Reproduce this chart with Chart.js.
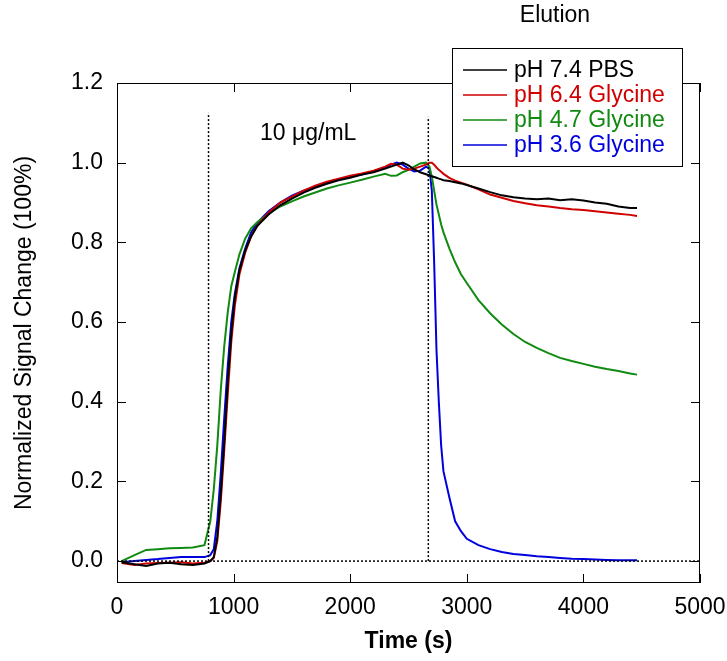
<!DOCTYPE html>
<html>
<head>
<meta charset="utf-8">
<script src="https://cdn.jsdelivr.net/npm/chart.js@4.4.0/dist/chart.umd.min.js"></script>
<style>
  html, body { margin: 0; padding: 0; background: #fff; }
  #wrap { width: 727px; height: 661px; }
</style>
</head>
<body>
<div id="wrap"><canvas id="signalChart" width="727" height="661"></canvas></div>
<script>
// time axis shared by all four runs (s)
var timeSec = [40, 150, 250, 350, 450, 550, 650, 750, 800, 830, 860, 890, 920, 950, 980, 1010, 1050, 1100, 1150, 1200,
  1300, 1400, 1500, 1600, 1700, 1800, 1900, 2000, 2100, 2200, 2300, 2350, 2400, 2450, 2500, 2550, 2600, 2650, 2680, 2700,
  2720, 2740, 2760, 2780, 2800, 2850, 2900, 2950, 3000, 3100, 3200, 3300, 3400, 3500, 3600, 3700, 3800, 3900, 4000, 4100,
  4200, 4300, 4400, 4460];

var pbs74 = [-0.003, -0.008, -0.012, -0.006, -0.004, -0.008, -0.010, -0.006, 0.000, 0.010, 0.060, 0.170, 0.300, 0.450, 0.570, 0.660, 0.730, 0.780, 0.815, 0.840,
  0.870, 0.893, 0.910, 0.925, 0.937, 0.947, 0.956, 0.962, 0.970, 0.976, 0.985, 0.990, 0.995, 1.000, 0.993, 0.983, 0.976, 0.971, 0.968, 0.966,
  0.964, 0.962, 0.960, 0.958, 0.956, 0.954, 0.951, 0.948, 0.944, 0.935, 0.926, 0.918, 0.913, 0.910, 0.908, 0.910, 0.906, 0.908, 0.905, 0.900,
  0.897, 0.890, 0.886, 0.886];

var gly64 = [-0.005, -0.010, -0.006, -0.005, -0.004, -0.003, -0.006, -0.004, 0.000, 0.008, 0.050, 0.150, 0.280, 0.420, 0.550, 0.640, 0.720, 0.775, 0.815, 0.840,
  0.875, 0.900, 0.915, 0.930, 0.942, 0.952, 0.960, 0.967, 0.973, 0.980, 0.990, 0.997, 0.995, 0.985, 0.982, 0.985, 0.990, 0.995, 1.000, 1.000,
  0.995, 0.988, 0.982, 0.977, 0.972, 0.962, 0.955, 0.950, 0.945, 0.933, 0.920, 0.912, 0.904, 0.898, 0.893, 0.890, 0.886, 0.883, 0.881, 0.878,
  0.875, 0.872, 0.869, 0.866];

var gly47 = [0.000, 0.015, 0.028, 0.030, 0.032, 0.033, 0.034, 0.040, 0.100, 0.180, 0.290, 0.430, 0.540, 0.625, 0.690, 0.725, 0.770, 0.810, 0.835, 0.850,
  0.872, 0.890, 0.903, 0.915, 0.925, 0.935, 0.943, 0.950, 0.957, 0.965, 0.972, 0.967, 0.968, 0.976, 0.982, 0.990, 0.998, 1.000, 0.990, 0.965,
  0.930, 0.895, 0.870, 0.845, 0.825, 0.785, 0.750, 0.720, 0.698, 0.655, 0.622, 0.594, 0.570, 0.550, 0.535, 0.522, 0.510, 0.502, 0.495, 0.488,
  0.482, 0.477, 0.471, 0.468];

var gly36 = [-0.003, 0.000, 0.003, 0.005, 0.008, 0.010, 0.010, 0.010, 0.015, 0.030, 0.100, 0.220, 0.360, 0.490, 0.600, 0.670, 0.735, 0.785, 0.825, 0.848,
  0.878, 0.900, 0.917, 0.930, 0.940, 0.950, 0.958, 0.965, 0.970, 0.978, 0.988, 0.995, 1.000, 0.995, 0.985, 0.978, 0.980, 0.990, 0.985, 0.930,
  0.750, 0.530, 0.400, 0.290, 0.225, 0.160, 0.100, 0.075, 0.056, 0.040, 0.030, 0.023, 0.018, 0.015, 0.012, 0.010, 0.008, 0.006, 0.005, 0.004,
  0.003, 0.002, 0.002, 0.002];

var seriesLabels = ['pH 7.4 PBS', 'pH 6.4 Glycine', 'pH 4.7 Glycine', 'pH 3.6 Glycine'];
var seriesColors = ['#000000', '#d00000', '#108a10', '#0000dd'];
var seriesValues = [pbs74, gly64, gly47, gly36];

var xTicks = [0, 1000, 2000, 3000, 4000, 5000];
var yTicks = [0.0, 0.2, 0.4, 0.6, 0.8, 1.0, 1.2];

// dotted markers: sample injection and elution start
var injectionTime = 785;
var elutionTime = 2670;
var markerTops = [1.125, 1.115];

var FONT = '"Liberation Sans", Arial, sans-serif';
var FS = 23;

function points(vals) {
  return timeSec.map(function(t, i) { return { x: t, y: vals[i] }; });
}

var datasets = [];
// reference lines first so the curves sit on top
datasets.push({ data: [{x: 0, y: 0}, {x: 5000, y: 0}], borderColor: '#000', borderWidth: 1.5, borderDash: [2, 2], pointRadius: 0 });
datasets.push({ data: [{x: injectionTime, y: 0}, {x: injectionTime, y: markerTops[0]}], borderColor: '#000', borderWidth: 1.5, borderDash: [2, 2], pointRadius: 0 });
datasets.push({ data: [{x: elutionTime, y: 0}, {x: elutionTime, y: markerTops[1]}], borderColor: '#000', borderWidth: 1.5, borderDash: [2, 2], pointRadius: 0 });

for (var i = 0; i < seriesLabels.length; i++) {
  datasets.push({
    label: seriesLabels[i],
    data: points(seriesValues[i]),
    borderColor: seriesColors[i],
    borderWidth: 2,
    pointRadius: 0,
    tension: 0
  });
}

var framePlugin = {
  id: 'frame',
  afterDraw: function(chart) {
    var ctx = chart.ctx, a = chart.chartArea;
    var xs = chart.scales.x, ys = chart.scales.y;
    ctx.save();
    ctx.strokeStyle = '#000';
    ctx.lineWidth = 1;
    ctx.strokeRect(a.left + 0.5, a.top + 0.5, a.right - a.left - 1, a.bottom - a.top - 1);

    // inward ticks on all four sides
    ctx.beginPath();
    xTicks.forEach(function(v) {
      var p = Math.round(xs.getPixelForValue(v)) + 0.5;
      ctx.moveTo(p, a.bottom); ctx.lineTo(p, a.bottom - 9);
      ctx.moveTo(p, a.top); ctx.lineTo(p, a.top + 9);
    });
    yTicks.forEach(function(v) {
      var p = Math.round(ys.getPixelForValue(v)) + 0.5;
      ctx.moveTo(a.left, p); ctx.lineTo(a.left + 9, p);
      ctx.moveTo(a.right, p); ctx.lineTo(a.right - 9, p);
    });
    ctx.stroke();

    // annotations
    ctx.fillStyle = '#000';
    ctx.font = FS + 'px ' + FONT;
    ctx.textBaseline = 'middle';
    ctx.textAlign = 'center';
    ctx.fillText('Elution', 555, 16);
    ctx.textAlign = 'left';
    ctx.fillText('10 \u03bcg/mL', 260, 134);

    // legend box
    var lx = 452, ly = 48, lw = 230, lh = 118;
    ctx.fillStyle = '#fff';
    ctx.fillRect(lx, ly, lw, lh);
    ctx.strokeRect(lx + 0.5, ly + 0.5, lw, lh);
    var rowY = [70, 95, 120, 145];
    for (var k = 0; k < seriesLabels.length; k++) {
      ctx.strokeStyle = seriesColors[k];
      ctx.lineWidth = 1.5;
      ctx.beginPath();
      ctx.moveTo(463, rowY[k]); ctx.lineTo(507, rowY[k]);
      ctx.stroke();
      ctx.fillStyle = seriesColors[k];
      ctx.fillText(seriesLabels[k], 514, rowY[k] + 1);
    }
    ctx.restore();
  }
};

new Chart(document.getElementById('signalChart'), {
  type: 'line',
  data: { datasets: datasets },
  options: {
    responsive: false,
    animation: false,
    devicePixelRatio: 1,
    layout: { padding: { top: 83, right: 27, left: 0, bottom: 0 } },
    plugins: { legend: { display: false }, tooltip: { enabled: false } },
    scales: {
      x: {
        type: 'linear', min: 0, max: 5000,
        afterBuildTicks: function(s) { s.ticks = xTicks.map(function(v) { return { value: v }; }); },
        afterFit: function(s) { s.height = 78; s.paddingLeft = 0; s.paddingRight = 0; },
        grid: { display: true, drawOnChartArea: false, drawTicks: false },
        border: { display: false },
        ticks: { color: '#000', font: { family: FONT, size: FS }, padding: 11, maxRotation: 0,
          callback: function(v) { return String(v); } },
        title: { display: true, text: 'Time (s)', color: '#000', font: { family: FONT, size: FS, weight: 'bold' }, padding: { top: 0, bottom: 6 } }
      },
      y: {
        type: 'linear', min: -0.055, max: 1.2,
        afterBuildTicks: function(s) { s.ticks = yTicks.map(function(v) { return { value: v }; }); },
        afterFit: function(s) { s.width = 117; s.paddingTop = 0; s.paddingBottom = 0; },
        grid: { display: true, drawOnChartArea: false, drawTicks: false },
        border: { display: false },
        ticks: { color: '#000', font: { family: FONT, size: FS }, padding: 14,
          callback: function(v) { return v.toFixed(1); } },
        title: { display: true, text: 'Normalized Signal Change (100%)', color: '#000', font: { family: FONT, size: FS }, padding: { top: 11, bottom: 0 } }
      }
    }
  },
  plugins: [framePlugin]
});
</script>
</body>
</html>
